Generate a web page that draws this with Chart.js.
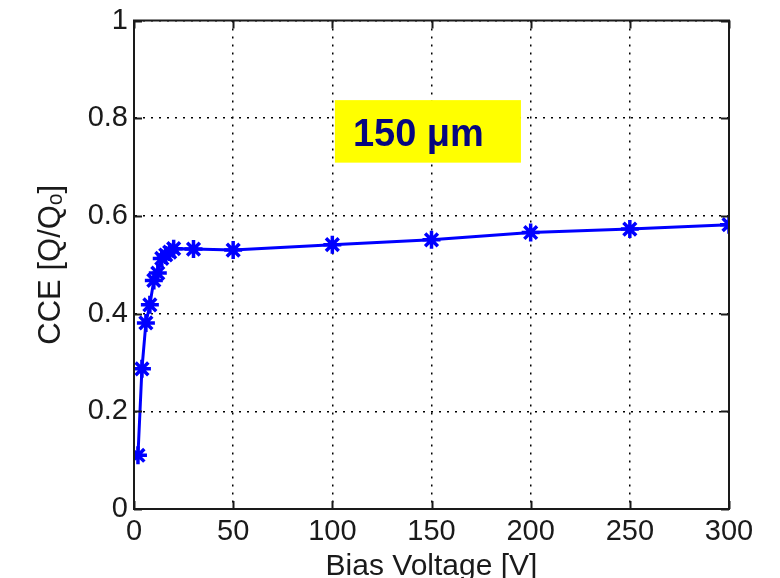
<!DOCTYPE html>
<html>
<head>
<meta charset="utf-8">
<script src="https://cdn.jsdelivr.net/npm/chart.js@4/dist/chart.umd.min.js"></script>
<style>
  html, body { margin: 0; padding: 0; background: #ffffff; }
  #wrap { width: 780px; height: 578px; position: relative; }
</style>
</head>
<body>
<div id="wrap"><canvas id="c" width="780" height="578"></canvas></div>
<script>
// ---- data ----
const biasVoltage = [2, 4, 6, 8, 10, 12, 14, 16, 18, 20, 30, 50, 100, 150, 200, 250, 300];
const cce = [0.110, 0.287, 0.381, 0.418, 0.468, 0.483, 0.513, 0.520, 0.526, 0.533, 0.532, 0.530, 0.541, 0.551, 0.566, 0.573, 0.582];
const xTicks = [0, 50, 100, 150, 200, 250, 300];
const yTicks = [0, 0.2, 0.4, 0.6, 0.8, 1];
const yTickLabels = ['0', '0.2', '0.4', '0.6', '0.8', '1'];
const labelText = '150 \u03BCm';
const xTitle = 'Bias Voltage [V]';
const yTitle = 'CCE [Q/Q\u2092]';

const FONT = '"Liberation Sans", Arial, sans-serif';
const TXT = '#1a1a1a';

const points = biasVoltage.map((v, i) => ({ x: v, y: cce[i] }));

const framePlugin = {
  id: 'frame',
  beforeDatasetsDraw(chart, args, opts) {
    const { ctx, scales: { x, y } } = chart;
    const bx0 = x.getPixelForValue(opts.box.x0), bx1 = x.getPixelForValue(opts.box.x1);
    const by0 = y.getPixelForValue(opts.box.y0), by1 = y.getPixelForValue(opts.box.y1);
    ctx.save();
    ctx.fillStyle = '#ffff00';
    ctx.fillRect(bx0, by1, bx1 - bx0, by0 - by1);
    ctx.fillStyle = '#06067f';
    ctx.font = 'bold 38px "Liberation Sans", Arial, sans-serif';
    ctx.textBaseline = 'alphabetic';
    ctx.textAlign = 'left';
    ctx.fillText(opts.text, bx0 + 18, by0 - 17);
    ctx.restore();
  },
  afterDraw(chart) {
    const { ctx, chartArea: a, scales: { x, y } } = chart;
    ctx.save();
    ctx.strokeStyle = '#1a1a1a';
    ctx.lineWidth = 2;
    const L = 8;
    ctx.beginPath();
    x.ticks.forEach(t => {
      const px = Math.round(x.getPixelForValue(t.value)) + 0.5;
      ctx.moveTo(px, a.bottom); ctx.lineTo(px, a.bottom - L);
      ctx.moveTo(px, a.top); ctx.lineTo(px, a.top + L);
    });
    y.ticks.forEach(t => {
      const py = Math.round(y.getPixelForValue(t.value)) + 0.5;
      ctx.moveTo(a.left, py); ctx.lineTo(a.left + L, py);
      ctx.moveTo(a.right, py); ctx.lineTo(a.right - L, py);
    });
    ctx.stroke();
    ctx.strokeRect(a.left, a.top, a.right - a.left, a.bottom - a.top);
    ctx.restore();
  }
};

new Chart(document.getElementById('c'), {
  type: 'line',
  data: {
    datasets: [{
      data: points,
      borderColor: '#0000ff',
      backgroundColor: '#0000ff',
      borderWidth: 3,
      pointStyle: 'star',
      pointRadius: 9,
      pointBorderWidth: 3.5,
      pointBorderColor: '#0000ff',
      pointHoverRadius: 9,
      tension: 0,
      fill: false
    }]
  },
  options: {
    responsive: false,
    animation: false,
    events: [],
    layout: { padding: { top: 17, right: 51, left: 0, bottom: 0 } },
    plugins: {
      legend: { display: false },
      tooltip: { enabled: false },
      frame: { box: { x0: 101.3, x1: 195.1, y0: 0.709, y1: 0.837 }, text: labelText }
    },
    scales: {
      x: {
        type: 'linear',
        min: 0, max: 300,
        afterBuildTicks(s) { s.ticks = xTicks.map(v => ({ value: v })); },
        afterFit(s) { s.height = 69; },
        ticks: {
          color: TXT,
          font: { family: FONT, size: 29, lineHeight: 1.0 },
          padding: 8,
          maxRotation: 0,
          callback: (v) => String(v)
        },
        grid: { color: '#000000', lineWidth: 1.5, drawTicks: false },
        border: { display: true, color: '#1a1a1a', width: 2, dash: [2, 6] },
        title: {
          display: true, text: xTitle, color: TXT,
          font: { family: FONT, size: 30, lineHeight: 1.0 },
          padding: { top: 0, bottom: -3.5 }
        }
      },
      y: {
        type: 'linear',
        min: 0, max: 1,
        afterBuildTicks(s) { s.ticks = yTicks.map(v => ({ value: v })); },
        afterFit(s) { s.width = 134; },
        ticks: {
          color: TXT,
          font: { family: FONT, size: 29, lineHeight: 1.0 },
          padding: 6,
          callback: (v) => { const i = yTicks.indexOf(v); return i >= 0 ? yTickLabels[i] : ''; }
        },
        grid: { color: '#000000', lineWidth: 1.5, drawTicks: false },
        border: { display: true, color: '#1a1a1a', width: 2, dash: [2, 6] },
        title: {
          display: true, text: yTitle, color: TXT,
          font: { family: FONT, size: 31, lineHeight: 1.2 },
          padding: { top: 33, bottom: 0 }
        }
      }
    }
  },
  plugins: [framePlugin]
});
</script>
</body>
</html>
